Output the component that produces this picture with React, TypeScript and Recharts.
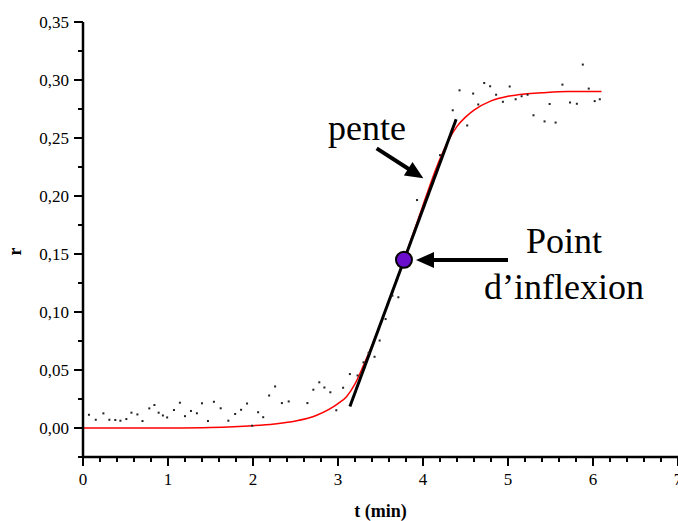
import React from 'react';
import {
    ComposedChart,
    Line,
    Scatter,
    XAxis,
    YAxis,
    ReferenceLine,
    ReferenceDot
} from 'recharts';

// measured points (t in min, r)
const obsT = [
    0.07, 0.15, 0.24, 0.31, 0.38, 0.44, 0.51, 0.57, 0.64, 0.70, 0.78, 0.84, 0.89, 0.94, 0.99,
    1.07, 1.14, 1.20, 1.27, 1.34, 1.40, 1.47, 1.54, 1.62, 1.71, 1.79, 1.86, 1.93, 1.99,
    2.06, 2.12, 2.19, 2.26, 2.34, 2.42, 2.64, 2.71, 2.78, 2.84, 2.91, 2.98,
    3.06, 3.14, 3.23, 3.30, 3.36, 3.43, 3.49, 3.56, 3.64, 3.71, 3.93,
    4.20, 4.35, 4.43, 4.52, 4.59, 4.65, 4.72, 4.79, 4.86, 4.94,
    5.02, 5.09, 5.16, 5.23, 5.30, 5.43, 5.49, 5.56, 5.64, 5.73, 5.81, 5.88, 5.95,
    6.02, 6.08
];
const obsR = [
    0.0114, 0.0071, 0.0126, 0.0071, 0.0069, 0.0063, 0.0077, 0.0132, 0.0117, 0.0060, 0.0169, 0.0198, 0.0132, 0.0108, 0.0091,
    0.0155, 0.0218, 0.0102, 0.0147, 0.0127, 0.0213, 0.0060, 0.0226, 0.0170, 0.0063, 0.0121, 0.0157, 0.0211, 0.0020,
    0.0136, 0.0093, 0.0280, 0.0358, 0.0215, 0.0229, 0.0215, 0.0330, 0.0394, 0.0349, 0.0308, 0.0153,
    0.0347, 0.0465, 0.0453, 0.0566, 0.0648, 0.0614, 0.0754, 0.0939, 0.1141, 0.1127, 0.1965,
    0.2352, 0.2739, 0.2911, 0.2608, 0.2883, 0.2789, 0.2974, 0.2946, 0.2873, 0.2812,
    0.2944, 0.2834, 0.2860, 0.2873, 0.2696, 0.2643, 0.2793, 0.2633, 0.2960, 0.2806, 0.2795, 0.3133, 0.2926,
    0.2818, 0.2834
];

// fitted curve
const fitT = [0, 0.5, 1.0, 1.5, 2.0, 2.25, 2.5, 2.75, 3.0, 3.1, 3.2, 3.3, 3.4, 3.5, 3.6, 3.7, 3.8, 3.9, 4.0, 4.1, 4.2, 4.3, 4.4, 4.5, 4.6, 4.8, 5.0, 5.2, 5.4, 5.7, 6.1];
const fitR = [0, 0, 0.0001, 0.0005, 0.002, 0.0035, 0.006, 0.011, 0.021, 0.027, 0.038, 0.054, 0.071, 0.090, 0.110, 0.130, 0.150, 0.171, 0.192, 0.213, 0.232, 0.248, 0.260, 0.268, 0.274, 0.282, 0.286, 0.288, 0.289, 0.290, 0.290];

// tangent at the inflection point
const tangentT = [3.14, 4.39];
const tangentR = [0.0186, 0.2661];
const inflexion = { t: 3.776, r: 0.145 };

const xTicks = [
    0, 0.2, 0.4, 0.6, 0.8, 1, 1.2, 1.4, 1.6, 1.8, 2, 2.2, 2.4, 2.6, 2.8, 3, 3.2, 3.4, 3.6, 3.8,
    4, 4.2, 4.4, 4.6, 4.8, 5, 5.2, 5.4, 5.6, 5.8, 6, 6.2, 6.4, 6.6, 6.8, 7
];
const yTicks = [-0.025, 0, 0.025, 0.05, 0.075, 0.1, 0.125, 0.15, 0.175, 0.2, 0.225, 0.25, 0.275, 0.3, 0.325, 0.35];

// annotations in data coordinates
const penteArrow = { from: { t: 3.455, r: 0.241 }, to: { t: 4.004, r: 0.2152 } };
const inflexionArrow = { from: { t: 5.0, r: 0.1448 }, to: { t: 3.918, r: 0.1448 } };
const penteLabel = { t: 2.882, r: 0.2481, text: 'pente' };
const pointLabels = [
    { t: 5.659, r: 0.1509, text: 'Point' },
    { t: 5.659, r: 0.1113, text: 'd\u2019inflexion' }
];

const observed = obsT.map((t, i) => ({ t, r: obsR[i] }));
const fitted = fitT.map((t, i) => ({ t, r: fitR[i] }));

const FONT = "'Liberation Serif', 'Times New Roman', Times, 'DejaVu Serif', serif";
const serif = (size: number, bold = false) => ({
    fontFamily: FONT,
    fontSize: size,
    fontWeight: bold ? 700 : 400,
    fill: '#000'
});

const isMajorX = (v: number) => Math.abs(v - Math.round(v)) < 1e-6;
const isMajorY = (v: number) => Math.abs(v * 20 - Math.round(v * 20)) < 1e-6;

const XTick = (props: any) => {
    const { x, y, payload } = props;
    const major = isMajorX(payload.value);
    return (
        <g>
            <line x1={x} x2={x} y1={y} y2={y + (major ? 9 : 5)} stroke="#000" strokeWidth={2} />
            {major && (
                <text x={x} y={y + 28} textAnchor="middle" style={serif(17)}>
                    {payload.value}
                </text>
            )}
        </g>
    );
};

const YTick = (props: any) => {
    const { x, y, payload } = props;
    const major = isMajorY(payload.value);
    const show = major && payload.value >= 0;
    return (
        <g>
            <line x1={x} x2={x - (major ? 9 : 5)} y1={y} y2={y} stroke="#000" strokeWidth={2} />
            {show && (
                <text x={x - 14} y={y + 6} textAnchor="end" style={serif(17)}>
                    {payload.value.toFixed(2).replace('.', ',')}
                </text>
            )}
        </g>
    );
};

const Arrow = (props: any) => {
    const { x1, y1, x2, y2 } = props;
    const dx = x2 - x1;
    const dy = y2 - y1;
    const len = Math.sqrt(dx * dx + dy * dy);
    const ux = dx / len;
    const uy = dy / len;
    const head = 18;
    const half = 8;
    const bx = x2 - ux * head;
    const by = y2 - uy * head;
    const pts = `${x2},${y2} ${bx - uy * half},${by + ux * half} ${bx + uy * half},${by - ux * half}`;
    return (
        <g>
            <line x1={x1} y1={y1} x2={bx + ux * 2} y2={by + uy * 2} stroke="#000" strokeWidth={4} />
            <polygon points={pts} fill="#000" />
        </g>
    );
};

const makeText = (text: string, anchor: 'start' | 'middle') => (props: any) => (
    <text x={props.cx} y={props.cy} textAnchor={anchor} style={serif(36)}>
        {text}
    </text>
);

const dotShape = (props: any) => (
    <rect x={props.cx - 1} y={props.cy - 1} width={2} height={2} fill="#222" />
);

export default function App() {
    return (
        <div style={{ position: 'absolute', left: 0, top: 0, width: 678, height: 521, background: '#fff' }}>
            <ComposedChart
                width={678}
                height={521}
                margin={{ top: 22, right: 0, bottom: 0, left: 0 }}
                style={{ fontFamily: FONT }}
            >
                <XAxis
                    type="number"
                    dataKey="t"
                    domain={[0, 7]}
                    ticks={xTicks}
                    interval={0}
                    height={64}
                    tickSize={0}
                    tickMargin={0}
                    tickLine={false}
                    axisLine={{ stroke: '#000', strokeWidth: 2.5 }}
                    tick={<XTick />}
                    allowDataOverflow
                    label={{
                        content: (p: any) => (
                            <text
                                x={p.viewBox.x + p.viewBox.width / 2}
                                y={p.viewBox.y + 60}
                                textAnchor="middle"
                                style={serif(18, true)}
                            >
                                t (min)
                            </text>
                        )
                    }}
                />
                <YAxis
                    type="number"
                    dataKey="r"
                    domain={[-0.025, 0.35]}
                    ticks={yTicks}
                    interval={0}
                    width={83}
                    tickSize={0}
                    tickMargin={0}
                    tickLine={false}
                    axisLine={{ stroke: '#000', strokeWidth: 2.5 }}
                    tick={<YTick />}
                    allowDataOverflow
                    label={{
                        content: (p: any) => {
                            const lx = p.viewBox.x + 21;
                            const ly = p.viewBox.y + p.viewBox.height / 2 + 12;
                            return (
                                <text
                                    x={lx}
                                    y={ly}
                                    transform={`rotate(-90 ${lx} ${ly})`}
                                    textAnchor="middle"
                                    style={serif(18, true)}
                                >
                                    r
                                </text>
                            );
                        }
                    }}
                />
                <Scatter data={observed} dataKey="r" shape={dotShape} isAnimationActive={false} />
                <Line
                    data={fitted}
                    dataKey="r"
                    type="monotone"
                    stroke="#ff0000"
                    strokeWidth={1.5}
                    dot={false}
                    activeDot={false}
                    isAnimationActive={false}
                />
                <ReferenceLine
                    segment={[
                        { x: tangentT[0], y: tangentR[0] },
                        { x: tangentT[1], y: tangentR[1] }
                    ]}
                    stroke="#000"
                    strokeWidth={3}
                />
                <ReferenceLine
                    segment={[
                        { x: penteArrow.from.t, y: penteArrow.from.r },
                        { x: penteArrow.to.t, y: penteArrow.to.r }
                    ]}
                    shape={Arrow}
                />
                <ReferenceLine
                    segment={[
                        { x: inflexionArrow.from.t, y: inflexionArrow.from.r },
                        { x: inflexionArrow.to.t, y: inflexionArrow.to.r }
                    ]}
                    shape={Arrow}
                />
                <ReferenceDot
                    x={inflexion.t}
                    y={inflexion.r}
                    r={8}
                    fill="#6a0dcc"
                    stroke="#000"
                    strokeWidth={2}
                />
                <ReferenceDot x={penteLabel.t} y={penteLabel.r} shape={makeText(penteLabel.text, 'start')} />
                {pointLabels.map((l) => (
                    <ReferenceDot key={l.text} x={l.t} y={l.r} shape={makeText(l.text, 'middle')} />
                ))}
            </ComposedChart>
        </div>
    );
}
